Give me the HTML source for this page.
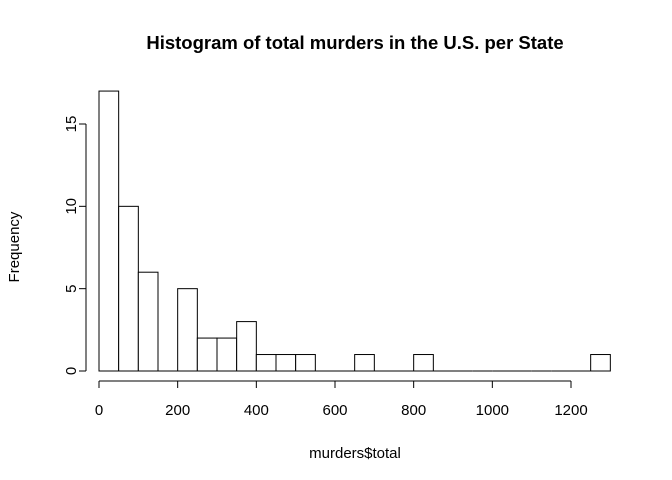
<!DOCTYPE html>
<html>
<head>
<meta charset="utf-8">
<style>
html,body{margin:0;padding:0;background:#fff;}
svg{display:block;font-family:"Liberation Sans",Arial,sans-serif;}
</style>
</head>
<body>
<svg id="chart" width="672" height="480" viewBox="0 0 672 480">
<text x="355" y="49" text-anchor="middle" font-size="18.5" font-weight="bold">Histogram of total murders in the U.S. per State</text>
<text x="355" y="458" text-anchor="middle" font-size="15">murders$total</text>
<text x="19" y="247" text-anchor="middle" font-size="15" transform="rotate(-90 19 247)">Frequency</text>
<g id="bars"></g>
<g id="xaxis"></g>
<g id="yaxis"></g>
</svg>
<script>
const binEdges = [0,50,100,150,200,250,300,350,400,450,500,550,600,650,700,750,800,850,900,950,1000,1050,1100,1150,1200,1250,1300];
const counts = [17,10,6,0,5,2,2,3,1,1,1,0,0,1,0,0,1,0,0,0,0,0,0,0,0,1];
const xTicks = [0,200,400,600,800,1000,1200];
const yTicks = [0,5,10,15];

const NS = "http://www.w3.org/2000/svg";
const xs = v => 99 + v * (472/1200);
const ys = v => 371 - v * (247/15);
function mk(tag, attrs, parent){
  const e = document.createElementNS(NS, tag);
  for (const k in attrs) e.setAttribute(k, attrs[k]);
  parent.appendChild(e);
  return e;
}
const bars = document.getElementById('bars');
counts.forEach((c,i)=>{
  const x0 = xs(binEdges[i]), x1 = xs(binEdges[i+1]);
  let r;
  if (c === 0) {
    r = mk('line', {x1:x0, x2:x1, y1:ys(0), y2:ys(0), stroke:'#000', 'stroke-width':1}, bars);
  } else {
    r = mk('rect', {x:x0, y:ys(c), width:x1-x0, height:ys(0)-ys(c), fill:'#fff', stroke:'#000', 'stroke-width':1}, bars);
  }
  
  
});
const xa = document.getElementById('xaxis');
mk('line', {x1:xs(xTicks[0]), x2:xs(xTicks[xTicks.length-1]), y1:381, y2:381, stroke:'#000'}, xa);
xTicks.forEach(t=>{
  mk('line', {x1:xs(t), x2:xs(t), y1:381, y2:388, stroke:'#000'}, xa);
  const tx = mk('text', {x:xs(t), y:415, 'text-anchor':'middle', 'font-size':15}, xa);
  tx.textContent = t;
  
  
});
const ya = document.getElementById('yaxis');
mk('line', {x1:86, x2:86, y1:ys(yTicks[0]), y2:ys(yTicks[yTicks.length-1]), stroke:'#000'}, ya);
yTicks.forEach(t=>{
  mk('line', {x1:79, x2:86, y1:ys(t), y2:ys(t), stroke:'#000'}, ya);
  const tx = mk('text', {x:76, y:ys(t), 'text-anchor':'middle', 'font-size':15, transform:`rotate(-90 76 ${ys(t)})`}, ya);
  tx.textContent = t;
  
  
});
</script>
</body>
</html>
